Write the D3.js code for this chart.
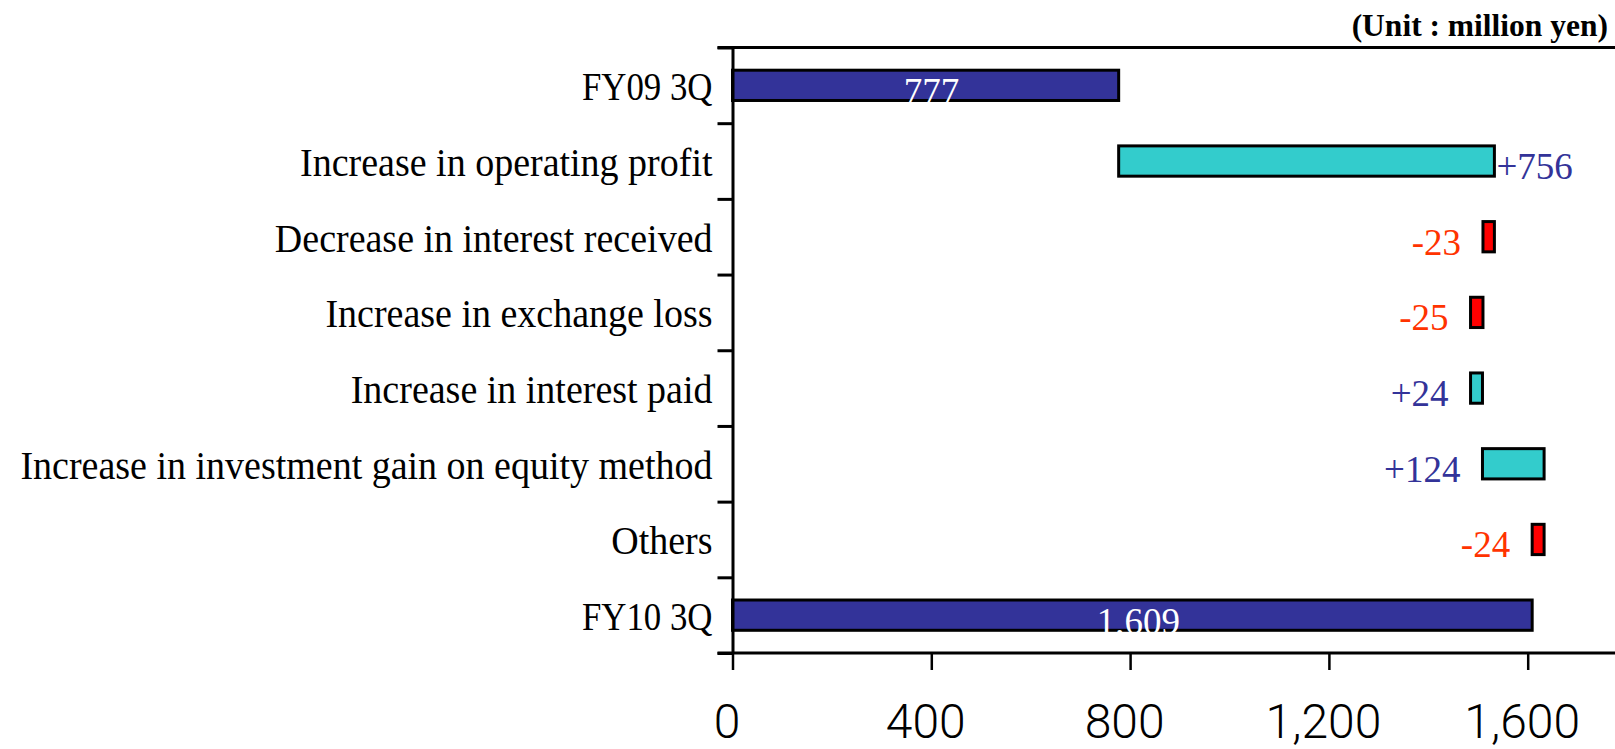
<!DOCTYPE html>
<html>
<head>
<meta charset="utf-8">
<script src="https://cdn.jsdelivr.net/npm/d3@7/dist/d3.min.js"></script>
<style>
  html, body { margin: 0; padding: 0; background: #ffffff; }
  svg { display: block; }
</style>
</head>
<body>
<svg id="chart" width="1615" height="749"></svg>
<script>
// ---- data ----
const categories = [
  "FY09 3Q",
  "Increase in operating profit",
  "Decrease in interest received",
  "Increase in exchange loss",
  "Increase in interest paid",
  "Increase in investment gain on equity method",
  "Others",
  "FY10 3Q"
];
const changes = [777, 756, -23, -25, 24, 124, -24, 1609];
const kinds = ["total", "up", "down", "down", "up", "up", "down", "total"];
const valueLabels = ["777", "+756", "-23", "-25", "+24", "+124", "-24", "1,609"];
const tickValues = [0, 400, 800, 1200, 1600];
const tickLabels = ["0", "400", "800", "1,200", "1,600"];
const unitLabel = "(Unit : million yen)";

(function () {
  // ---- build waterfall rows ----
  let running = 0;
  const rows = categories.map((c, i) => {
    let start, end;
    if (kinds[i] === "total") { start = 0; end = changes[i]; running = changes[i]; }
    else { start = running; end = running + changes[i]; running = end; }
    return { cat: c, kind: kinds[i], v: changes[i], lo: Math.min(start, end), hi: Math.max(start, end), label: valueLabels[i] };
  });

  // ---- layout ----
  const W = 1615;
  const plotLeft = 732.5, plotTop = 47.5, plotBottom = 653;
  const pxPerUnit = 0.497;
  const svg = d3.select("#chart");

  const x = d3.scaleLinear().domain([0, 1800]).range([plotLeft, plotLeft + 1800 * pxPerUnit]);
  const y = d3.scaleBand().domain(categories).range([plotTop, plotBottom]).paddingInner(0.6).paddingOuter(0.3);
  const yEdge = d3.scaleLinear().domain([0, categories.length]).range([plotTop, plotBottom]);

  const fills = { total: "#333399", up: "#33CCCC", down: "#FF0000" };
  const labelColors = { total: "#FFFFFF", up: "#333399", down: "#FF3300" };

  // top frame line
  svg.append("line")
    .attr("x1", plotLeft - 15).attr("x2", W)
    .attr("y1", plotTop).attr("y2", plotTop)
    .attr("stroke", "#000").attr("stroke-width", 3);

  // bars
  svg.append("g").selectAll("rect").data(rows).join("rect")
    .attr("x", d => x(d.lo))
    .attr("y", d => y(d.cat))
    .attr("width", d => x(d.hi) - x(d.lo))
    .attr("height", y.bandwidth())
    .attr("fill", d => fills[d.kind])
    .attr("stroke", "#000")
    .attr("stroke-width", 3);

  // left axis (ticks at band boundaries)
  const gy = svg.append("g").attr("transform", `translate(${plotLeft},0)`)
    .call(d3.axisLeft(yEdge).tickValues(d3.range(categories.length + 1)).tickSize(15).tickSizeOuter(0).tickFormat(""));
  gy.select(".domain").attr("stroke", "#000").attr("stroke-width", 3);
  gy.selectAll(".tick line").attr("stroke", "#000").attr("stroke-width", 3);

  // bottom axis
  const gx = svg.append("g").attr("transform", `translate(0,${plotBottom})`)
    .call(d3.axisBottom(x).tickValues(tickValues).tickSize(17).tickSizeOuter(0)
      .tickFormat((d, i) => tickLabels[i]));
  gx.select(".domain").attr("stroke", "#000").attr("stroke-width", 3)
    .attr("d", `M${plotLeft - 15},0H${W + 20}`);
  gx.selectAll(".tick line").attr("stroke", "#000").attr("stroke-width", 2.5);
  gx.selectAll(".tick text")
    .attr("y", 0).attr("dy", 0)
    .attr("transform", "translate(-6,85)")
    .attr("fill", "#000")
    .style("font-family", "Roboto, 'Open Sans', sans-serif")
    .style("font-weight", 300)
    .style("font-size", "48px");

  // category labels
  svg.append("g").selectAll("text").data(rows).join("text")
    .attr("transform", d => {
      const cy = y(d.cat) + y.bandwidth() / 2 + 15;
      const sx = d.kind === "total" ? 0.87 : 0.95;
      return `translate(${plotLeft - 20},${cy}) scale(${sx},1)`;
    })
    .attr("text-anchor", "end")
    .attr("fill", "#000")
    .style("font-family", "'Liberation Serif', 'Times New Roman', serif")
    .style("font-size", "40px")
    .text(d => d.cat);

  // value labels
  const maxChange = d3.max(rows.filter(r => r.kind !== "total"), r => Math.abs(r.v));
  svg.append("g").selectAll("text").data(rows).join("text")
    .attr("x", d => {
      if (d.kind === "total") return (x(d.lo) + x(d.hi)) / 2 + 6;
      if (Math.abs(d.v) === maxChange) return x(d.hi) + 2;
      return x(d.lo) - 22;
    })
    .attr("y", d => y(d.cat) + y.bandwidth() / 2 + (d.kind === "total" ? 19 : 18))
    .attr("text-anchor", d => d.kind === "total" ? "middle" : (Math.abs(d.v) === maxChange ? "start" : "end"))
    .attr("fill", d => labelColors[d.kind])
    .style("font-family", "'Liberation Serif', 'Times New Roman', serif")
    .style("font-size", "37px")
    .text(d => d.label);

  // unit label
  svg.append("text")
    .attr("x", 1608).attr("y", 36)
    .attr("text-anchor", "end")
    .attr("fill", "#000")
    .style("font-family", "'Liberation Serif', 'Times New Roman', serif")
    .style("font-weight", "bold")
    .style("font-size", "31.5px")
    .text(unitLabel);
})();
</script>
</body>
</html>
